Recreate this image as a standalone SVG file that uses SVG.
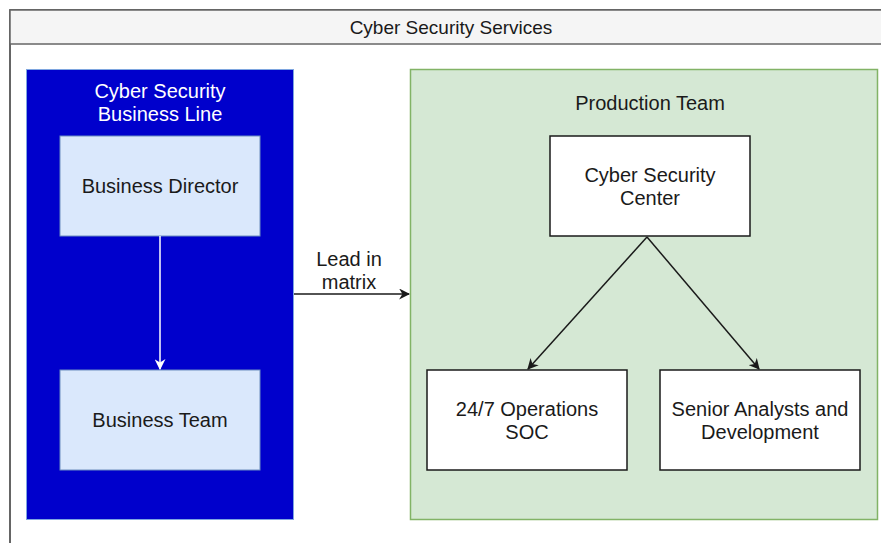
<svg xmlns="http://www.w3.org/2000/svg" width="881" height="543" viewBox="0 0 881 543">
<style>
text{font-family:"Liberation Sans",Arial,sans-serif;font-size:20px;fill:#1a1a1a;text-anchor:middle}
.w{fill:#ffffff}
.blueInner{fill:#dae8fc;stroke:#6c8ebf;stroke-width:1}
.white{fill:#ffffff;stroke:#1a1a1a;stroke-width:1.5}
.edge{fill:none;stroke:#1a1a1a;stroke-width:1.5}
</style>
<defs>
<marker id="ab" viewBox="0 0 10 10" refX="9" refY="5" markerWidth="11" markerHeight="11" markerUnits="userSpaceOnUse" orient="auto"><path d="M0,0 L10,5 L0,10 L3,5 Z" fill="#1a1a1a"/></marker>
<marker id="aw" viewBox="0 0 10 10" refX="9" refY="5" markerWidth="11" markerHeight="11" markerUnits="userSpaceOnUse" orient="auto"><path d="M0,0 L10,5 L0,10 L3,5 Z" fill="#ffffff"/></marker>
</defs>
<rect width="881" height="543" fill="#ffffff"/>
<g id="services">
<rect x="10" y="10" width="880" height="545" fill="#ffffff" stroke="#333" stroke-width="1.5"/>
<rect x="10" y="10" width="880" height="34" fill="#f5f5f5" stroke="#666" stroke-width="1.5"/>
<text x="451" y="34" style="font-size:19px">Cyber Security Services</text>
</g>
<g id="business-line">
<rect x="26.5" y="69.5" width="267" height="450" fill="#0000cc" stroke="#7ea6e0" stroke-width="1"/>
<text class="w" x="160" y="98">Cyber Security</text>
<text class="w" x="160" y="121">Business Line</text>
</g>
<g id="business-director">
<rect class="blueInner" x="60" y="136" width="200" height="100"/>
<text x="160" y="193">Business Director</text>
</g>
<g id="business-team">
<rect class="blueInner" x="60" y="370" width="200" height="100"/>
<text x="160" y="427">Business Team</text>
</g>
<g id="production-team">
<rect x="410.5" y="69.5" width="467" height="450" fill="#d5e8d4" stroke="#82b366" stroke-width="1.5"/>
<text x="650" y="110">Production Team</text>
</g>
<g id="csc">
<rect class="white" x="550" y="136" width="200" height="100"/>
<text x="650" y="182">Cyber Security</text>
<text x="650" y="205">Center</text>
</g>
<g id="soc">
<rect class="white" x="427" y="370" width="200" height="100"/>
<text x="527" y="416">24/7 Operations</text>
<text x="527" y="439">SOC</text>
</g>
<g id="senior">
<rect class="white" x="660" y="370" width="200" height="100"/>
<text x="760" y="416">Senior Analysts and</text>
<text x="760" y="439">Development</text>
</g>
<g id="connectors">
<line x1="160" y1="236" x2="160" y2="369" stroke="#ffffff" stroke-width="1.5" marker-end="url(#aw)"/>
<line class="edge" x1="294" y1="294" x2="409" y2="294" marker-end="url(#ab)"/>
<text x="349" y="266">Lead in</text>
<text x="349" y="289">matrix</text>
<line class="edge" x1="647" y1="237" x2="528" y2="369" marker-end="url(#ab)"/>
<line class="edge" x1="647" y1="237" x2="759" y2="369" marker-end="url(#ab)"/>
</g>
</svg>
